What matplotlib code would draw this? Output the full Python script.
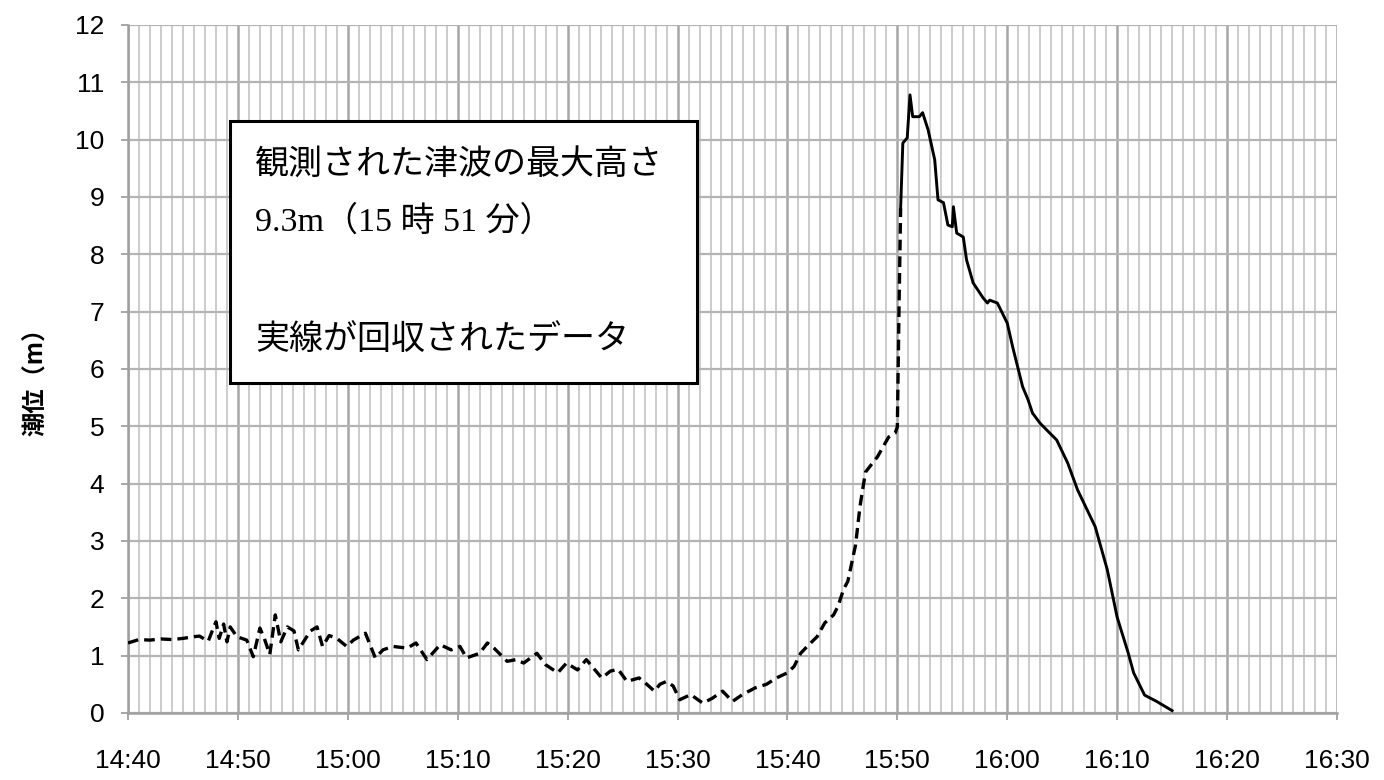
import matplotlib
matplotlib.use("Agg")
import matplotlib.pyplot as plt
from matplotlib.patches import Rectangle
from matplotlib.ticker import MultipleLocator

# time in minutes after 14:40
x_tick_labels = ["14:40", "14:50", "15:00", "15:10", "15:20", "15:30",
                 "15:40", "15:50", "16:00", "16:10", "16:20", "16:30"]
y_ticks = [0, 1, 2, 3, 4, 5, 6, 7, 8, 9, 10, 11, 12]

dashed_t = [0, 1, 2, 3, 4, 5, 6, 6.5, 7.3, 7.7, 8.0, 8.3, 8.7, 9.0, 9.3, 9.9,
            10.8, 11.4, 12.0, 12.4, 12.9, 13.4, 13.9, 14.5, 15.1, 15.5, 16.6,
            17.2, 17.7, 18.3, 19.0, 19.9, 20.5, 21.6, 22.5, 23.2, 24.1, 25.4,
            26.2, 27.2, 28.4, 29.4, 30.2, 30.8, 32.0, 32.7, 33.3, 34.5, 35.3,
            36.0, 37.2, 38.0, 39.1, 39.9, 40.9, 41.7, 43.1, 43.9, 44.6, 45.4,
            46.5, 47.2, 47.9, 48.4, 49.0, 49.6, 50.2, 51.2, 52.3, 53.2, 54.1,
            55.0, 55.9, 57.1, 58.1, 59.0, 60.0, 60.6, 61.2, 61.8, 62.7, 63.4,
            64.2, 64.6, 65.1, 65.5, 66.2, 66.6, 67.1, 68.2, 69.2, 69.8, 70.0,
            70.15, 70.3]
dashed_v = [1.22, 1.28, 1.27, 1.29, 1.28, 1.30, 1.33, 1.34, 1.25, 1.45, 1.59,
            1.30, 1.55, 1.24, 1.50, 1.33, 1.27, 0.98, 1.48, 1.30, 1.02, 1.71,
            1.24, 1.50, 1.43, 1.10, 1.43, 1.50, 1.16, 1.35, 1.30, 1.16, 1.27,
            1.39, 0.96, 1.10, 1.16, 1.13, 1.22, 0.93, 1.19, 1.10, 1.16, 0.96,
            1.04, 1.22, 1.13, 0.90, 0.93, 0.87, 1.04, 0.84, 0.70, 0.87, 0.75,
            0.93, 0.61, 0.73, 0.76, 0.55, 0.61, 0.50, 0.38, 0.50, 0.55, 0.47,
            0.23, 0.32, 0.17, 0.26, 0.38, 0.20, 0.32, 0.44, 0.50, 0.61, 0.70,
            0.81, 1.04, 1.16, 1.33, 1.57, 1.71, 1.86, 2.15, 2.30, 2.93, 3.60,
            4.20, 4.47, 4.81, 4.88, 4.99, 7.00, 8.80]

solid_t = [70.3, 70.5, 70.9, 71.15, 71.4, 72.0, 72.3, 72.8, 73.4, 73.7, 74.2,
           74.6, 75.0, 75.1, 75.4, 76.0, 76.3, 76.9, 77.8, 78.2, 78.4, 79.1,
           80.0, 80.5, 81.4, 81.9, 82.3, 83.0, 84.5, 85.5, 86.4, 88.0, 89.1,
           90.0, 91.0, 91.5, 92.5, 93.6, 95.0]
solid_v = [8.80, 9.94, 10.03, 10.78, 10.40, 10.40, 10.47, 10.17, 9.65, 8.95,
           8.90, 8.51, 8.48, 8.83, 8.37, 8.30, 7.90, 7.50, 7.24, 7.15, 7.20,
           7.15, 6.80, 6.38, 5.69, 5.46, 5.23, 5.05, 4.76, 4.36, 3.89, 3.25,
           2.50, 1.67, 1.05, 0.70, 0.31, 0.20, 0.04]

box_lines = ["観測された津波の最大高さ", "9.3m（15 時 51 分）", "実線が回収されたデータ"]
y_label = "潮位（m）"

fig = plt.figure(figsize=(13.84, 7.8), dpi=100)
ax = fig.add_axes([0.0925, 0.086, 0.8735, 0.882])

ax.set_xlim(0, 110)
ax.set_ylim(0, 12)
ax.set_xticks([i * 10 for i in range(len(x_tick_labels))])
ax.set_xticklabels(x_tick_labels)
ax.xaxis.set_minor_locator(MultipleLocator(1))
ax.set_yticks(y_ticks)

ax.grid(which="minor", axis="x", color="#c8c8c8", lw=1.3, zorder=0)
ax.grid(which="major", axis="x", color="#a6a6a6", lw=1.8, zorder=0)
ax.grid(which="major", axis="y", color="#b4b4b4", lw=1.6, zorder=0)
ax.set_axisbelow(True)

for s in ["top", "right"]:
    ax.spines[s].set_visible(False)
for s in ["left", "bottom"]:
    ax.spines[s].set_color("#a0a0a0")
    ax.spines[s].set_linewidth(1.8)

ax.tick_params(axis="both", which="major", direction="out", length=5,
               width=1.3, color="#a0a0a0", labelsize=19)
ax.tick_params(axis="x", which="major", pad=21)
ax.tick_params(axis="y", which="major", pad=12)
ax.tick_params(axis="x", which="minor", length=0)
for lab in ax.get_xticklabels() + ax.get_yticklabels():
    lab.set_fontfamily("Liberation Sans")

ax.plot(dashed_t, dashed_v, color="black", lw=2.4, ls=(0, (3.2, 1.8)), zorder=3)
ax.plot(solid_t, solid_v, color="black", lw=2.1, zorder=3)

ax.set_ylabel(y_label, fontsize=17.5, fontweight="bold",
              family=["Noto Sans CJK JP", "DejaVu Sans"])
ax.yaxis.set_label_coords(-0.066, 0.49)

rect = Rectangle((0.084, 0.48), 0.387, 0.38, transform=ax.transAxes,
                 facecolor="white", edgecolor="black", lw=2.2, zorder=4)
ax.add_patch(rect)
ax.text(0.105, 0.797, box_lines[0], transform=ax.transAxes, fontsize=24.5,
        family=["Noto Sans CJK JP", "DejaVu Sans"], va="center", ha="left", zorder=5)
ax.text(0.105, 0.714, box_lines[1], transform=ax.transAxes, fontsize=24.5,
        family=["Liberation Serif", "Noto Sans CJK JP"], va="center", ha="left", zorder=5)
ax.text(0.105, 0.542, box_lines[2], transform=ax.transAxes, fontsize=24.5,
        family=["Noto Sans CJK JP", "DejaVu Sans"], va="center", ha="left", zorder=5)

fig.savefig("out.png", dpi=100)
